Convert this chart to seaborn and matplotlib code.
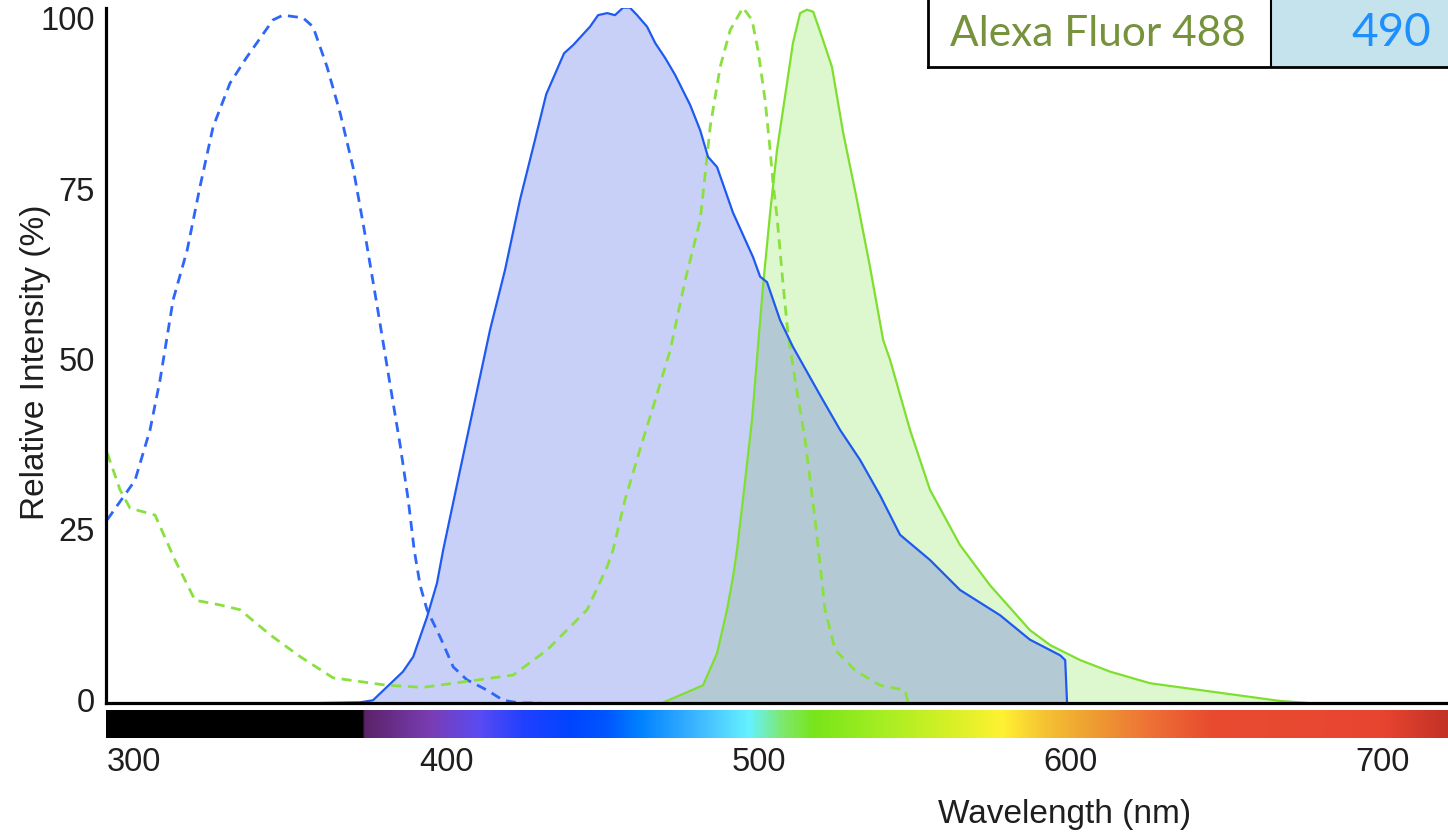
import numpy as np
import pandas as pd
import matplotlib
matplotlib.use("Agg")
import matplotlib.pyplot as plt
import seaborn as sns
from matplotlib.colors import LinearSegmentedColormap

# ---------------- data ----------------
# Blue dye excitation (dashed)
ex_blue_nm = [291.4, 300.3, 305.1, 308.3, 312.5, 317.0, 321.1, 325.3, 330.7, 336.2, 344.5, 347.7,
              354.1, 357.3, 361.8, 366.0, 370.1, 374.0, 377.8, 382.0, 385.2, 387.8, 389.7, 391.6,
              393.8, 398.0, 402.2, 406.6, 413.0, 418.2, 423.6, 430.0]
ex_blue_val = [26.9, 32.7, 40.1, 47.4, 59.2, 66.5, 75.8, 84.6, 91.0, 94.9, 100.3, 101.0,
               100.6, 99.3, 93.4, 86.6, 78.7, 68.7, 58.4, 46.7, 37.9, 29.8, 22.5, 17.3,
               13.7, 9.7, 5.3, 3.4, 1.9, 0.4, 0.0, 0.0]

# Blue dye emission (solid, filled)
em_blue_nm = [359.6, 372.4, 376.5, 386.1, 389.4, 393.8, 397.0, 399.0, 404.4, 409.2, 414.0, 418.8,
              423.6, 428.4, 432.0, 437.7, 440.6, 446.0, 448.6, 451.5, 454.0, 456.6, 458.8, 461.1,
              464.3, 466.9, 470.1, 473.3, 478.1, 481.3, 483.8, 486.7, 491.8, 498.2, 500.5, 502.7,
              506.9, 511.0, 519.7, 526.1, 532.5, 538.9, 545.3, 554.9, 564.5, 577.3, 586.9, 596.6,
              598.2, 598.8]
em_blue_val = [0.0, 0.1, 0.4, 4.6, 6.8, 12.6, 17.6, 22.5, 34.2, 44.5, 54.8, 63.6,
               73.9, 82.7, 89.4, 95.4, 96.6, 99.3, 101.0, 101.3, 101.0, 102.1, 102.1, 101.0,
               99.3, 96.9, 94.7, 92.2, 87.8, 84.1, 80.2, 78.7, 72.0, 65.5, 62.6, 61.8,
               56.2, 52.3, 45.2, 40.1, 35.7, 30.5, 24.7, 21.0, 16.6, 12.9, 9.3, 7.0,
               6.3, 0.0]

# Alexa Fluor 488 excitation (dashed)
ex_green_nm = [291.4, 295.5, 298.7, 306.7, 313.1, 319.5, 327.5, 333.9, 343.6, 353.2, 363.7, 381.0,
               392.6, 405.4, 421.4, 432.3, 445.1, 451.5, 453.4, 457.2, 462.0, 466.9, 471.7, 476.5,
               481.3, 483.5, 484.5, 487.7, 490.9, 495.0, 497.9, 499.8, 502.1, 503.7, 504.6, 505.9,
               507.8, 509.4, 511.7, 514.9, 518.1, 521.3, 524.5, 530.9, 538.9, 546.9, 547.9]
ex_green_val = [36.7, 31.3, 28.6, 27.6, 21.0, 15.1, 14.4, 13.7, 10.0, 6.8, 3.7, 2.6,
                2.3, 3.1, 4.1, 7.8, 13.7, 20.0, 22.5, 29.8, 37.2, 44.5, 51.8, 62.1,
                70.9, 80.2, 84.6, 93.4, 98.8, 102.1, 100.3, 95.9, 88.5, 81.2, 76.4, 71.4,
                61.7, 54.3, 47.4, 38.6, 26.9, 13.7, 7.8, 4.8, 2.6, 1.9, 0.0]

# Alexa Fluor 488 emission (solid, filled)
em_green_nm = [469.1, 482.2, 486.7, 489.9, 491.8, 493.1, 495.7, 497.9, 499.8, 501.4, 503.7, 505.9,
               509.1, 511.0, 513.3, 515.5, 517.5, 520.3, 523.5, 527.1, 531.5, 535.7, 539.9, 542.1,
               548.5, 554.9, 564.5, 574.1, 586.9, 593.4, 603.0, 612.6, 625.4, 641.4, 657.4, 667.0,
               676.0]
em_green_val = [0.0, 2.6, 7.3, 13.7, 18.5, 22.5, 32.7, 41.6, 52.3, 61.1, 72.0, 81.2,
                91.0, 96.9, 101.3, 101.8, 101.5, 97.8, 93.4, 83.7, 73.9, 64.0, 53.3, 50.4,
                40.1, 31.3, 23.2, 17.3, 10.7, 8.5, 6.3, 4.6, 2.9, 1.9, 0.9, 0.3,
                0.0]

x_ticks = [300, 400, 500, 600, 700]
y_ticks = [0, 25, 50, 75, 100]
x_label = "Wavelength (nm)"
y_label = "Relative Intensity (%)"
dye_name = "Alexa Fluor 488"
dye_value = "490"

# visible spectrum bar stops (wavelength, colour)
spec_nm = [291, 373, 373.6, 395, 410, 425, 440, 452, 462, 480, 497, 508, 518, 540, 562, 578,
           592, 606, 625, 645, 700, 721]
spec_col = ["#000000", "#000000", "#5B2367", "#7A3DB5", "#5B4BF2", "#2040FF", "#0045FF", "#0058FF",
            "#0082FF", "#3DB6FF", "#66F2FF", "#7EE86A", "#78E51A", "#A6EE22", "#D8F026", "#FFF232",
            "#F5C232", "#EFA032", "#EE7235", "#E84B30", "#E84530", "#C33226"]

# ---------------- figure ----------------
sns.set_theme(style="white")
plt.rcParams["font.family"] = ["Liberation Sans", "DejaVu Sans"]

W, H = 1448, 840
fig = plt.figure(figsize=(W / 100, H / 100), dpi=100)
fig.patch.set_facecolor("white")

xmin, xmax = 291.0, 720.8
ymax = 102.05
ax = fig.add_axes([106 / W, 1 - 703 / H, 1 - 106 / W, 695 / H])
ax.set_xlim(xmin, xmax)
ax.set_ylim(0, ymax)
ax.set_facecolor("white")

grid = np.linspace(xmin, xmax, 3000)
b = np.interp(grid, em_blue_nm, em_blue_val, left=0, right=0)
g = np.interp(grid, em_green_nm, em_green_val, left=0, right=0)
ax.fill_between(grid, 0, b, color="#C9D0F8", lw=0, zorder=1)
ax.fill_between(grid, 0, g, color="#DDF8CF", lw=0, zorder=1)
ax.fill_between(grid, 0, np.minimum(b, g), color="#B3CAD4", lw=0, zorder=1)

df_exb = pd.DataFrame({"nm": ex_blue_nm, "val": ex_blue_val})
df_emb = pd.DataFrame({"nm": em_blue_nm, "val": em_blue_val})
df_exg = pd.DataFrame({"nm": ex_green_nm, "val": ex_green_val})
df_emg = pd.DataFrame({"nm": em_green_nm, "val": em_green_val})

sns.lineplot(data=df_exb, x="nm", y="val", ax=ax, color="#2E66FA", lw=2.0,
             linestyle=(0, (3.6, 2.4)), sort=False, zorder=3)
sns.lineplot(data=df_exg, x="nm", y="val", ax=ax, color="#8BE040", lw=2.0,
             linestyle=(0, (3.6, 2.4)), sort=False, zorder=3)
sns.lineplot(data=df_emg, x="nm", y="val", ax=ax, color="#7EDF2E", lw=1.6, sort=False, zorder=4)
sns.lineplot(data=df_emb, x="nm", y="val", ax=ax, color="#1F5AF0", lw=1.6, sort=False, zorder=4)

for s in ["top", "right"]:
    ax.spines[s].set_visible(False)
for s in ["left", "bottom"]:
    ax.spines[s].set_visible(True)
    ax.spines[s].set_color("black")
    ax.spines[s].set_linewidth(2.3)
    ax.spines[s].set_zorder(6)
ax.grid(False)

ax.set_xticks(x_ticks)
ax.set_yticks(y_ticks)
ax.tick_params(axis="both", length=0, labelsize=23.5, colors="#1E1E1E")
ax.tick_params(axis="x", pad=32)
ax.tick_params(axis="y", pad=8)
for t in ax.get_yticklabels():
    t.set_va("center")

ax.set_xlabel(x_label, fontsize=24, color="#1E1E1E", va="center")
ax.xaxis.set_label_coords((1065 - 106) / (W - 106), (703 - 814) / 695)
ax.set_ylabel(y_label, fontsize=24, color="#1E1E1E")
ax.yaxis.set_label_coords((51 - 106) / (W - 106), 0.49)

# spectrum bar
cax = fig.add_axes([106 / W, 1 - 738 / H, 1 - 106 / W, 28 / H])
pos = [(v - spec_nm[0]) / (spec_nm[-1] - spec_nm[0]) for v in spec_nm]
cmap = LinearSegmentedColormap.from_list("spec", list(zip(pos, spec_col)), N=1024)
grad = np.linspace(0, 1, 1200)[None, :]
cax.imshow(grad, aspect="auto", cmap=cmap, extent=[spec_nm[0], spec_nm[-1], 0, 1])
cax.set_xlim(xmin, xmax)
cax.axis("off")

# label box
bx0, bx1, by = 928, 1448, 67
bax = fig.add_axes([bx0 / W, 1 - by / H, (bx1 - bx0) / W, by / H])
bax.set_xlim(bx0, bx1)
bax.set_ylim(0, 1)
div = 1271
bax.axvspan(bx0, div, color="white", zorder=0)
bax.axvspan(div, bx1, color="#C5E3EC", zorder=0)
bax.axvline(div, color="black", lw=1.5, zorder=2)
for s in ["top", "right"]:
    bax.spines[s].set_visible(False)
for s in ["left", "bottom"]:
    bax.spines[s].set_visible(True)
    bax.spines[s].set_color("black")
    bax.spines[s].set_linewidth(2.0)
bax.set_xticks([])
bax.set_yticks([])
bax.text(1098, 0.5, dye_name, ha="center", va="center", fontsize=30.5,
         color="#76923C", family=["Lato", "DejaVu Sans"])
bax.text(1391, 0.5, dye_value, ha="center", va="center", fontsize=33,
         color="#1E8FFF", family=["Lato", "DejaVu Sans"])

fig.savefig("out.png", dpi=100, facecolor="white")
